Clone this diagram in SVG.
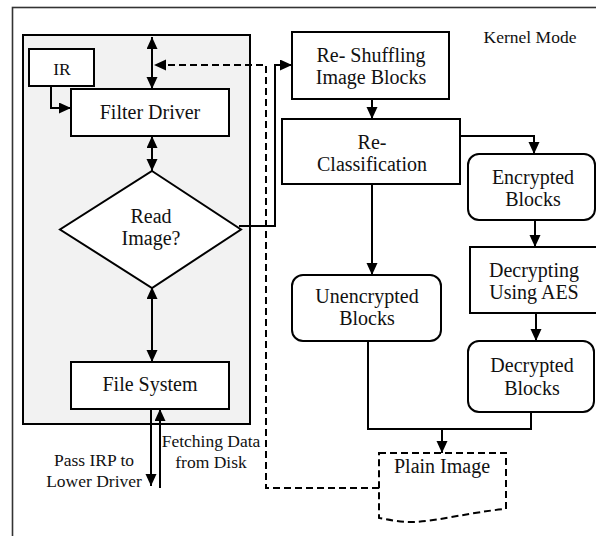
<svg xmlns="http://www.w3.org/2000/svg" width="596" height="536" viewBox="0 0 596 536">
  <style>
    .box { fill: #ffffff; stroke: #000000; stroke-width: 2; }
    .lbl { font-family: "Liberation Serif", "Times New Roman", serif; font-size: 20px; fill: #111111; text-anchor: middle; }
    .sm { font-family: "Liberation Serif", "Times New Roman", serif; font-size: 17.5px; fill: #111111; text-anchor: middle; }
    .ln { fill: none; stroke: #000000; stroke-width: 2; }
    .dash { fill: none; stroke: #000000; stroke-width: 2; stroke-dasharray: 7 4; }
  </style>
  <defs>
    <marker id="ah" markerUnits="userSpaceOnUse" markerWidth="13" markerHeight="12" refX="12" refY="5.5" orient="auto-start-reverse">
      <path d="M0,0 L12,5.5 L0,11 z" fill="#000000"/>
    </marker>
  </defs>

  <!-- outer frame (kernel mode) -->
  <rect x="12.5" y="7.5" width="600" height="560" fill="#ffffff" stroke="#333333" stroke-width="1.6"/>
  <!-- driver stack panel -->
  <rect x="23" y="35" width="227" height="389" fill="#f2f2f2" stroke="#000000" stroke-width="2"/>

  <text class="sm" x="530" y="43">Kernel Mode</text>

  <g id="ir">
    <rect class="box" x="29" y="49" width="65" height="37"/>
    <text class="sm" x="62" y="75">IR</text>
  </g>

  <g id="filter-driver">
    <rect class="box" x="71" y="89" width="158" height="47"/>
    <text class="lbl" x="150" y="119">Filter Driver</text>
  </g>

  <g id="read-image">
    <polygon class="box" points="152,171 241,229.5 152,288 60,229.5"/>
    <text class="lbl" x="151" y="223">Read</text>
    <text class="lbl" x="151" y="245">Image?</text>
  </g>

  <g id="file-system">
    <rect class="box" x="71" y="362" width="158" height="47"/>
    <text class="lbl" x="150" y="391">File System</text>
  </g>

  <g id="reshuffling">
    <rect class="box" x="292" y="32" width="157" height="67"/>
    <text class="lbl" x="371" y="62">Re- Shuffling</text>
    <text class="lbl" x="371" y="84">Image Blocks</text>
  </g>

  <g id="reclassification">
    <rect class="box" x="282" y="119" width="178" height="65"/>
    <text class="lbl" x="372" y="149">Re-</text>
    <text class="lbl" x="372" y="171">Classification</text>
  </g>

  <g id="encrypted">
    <rect class="box" x="468" y="154" width="127" height="66" rx="11"/>
    <text class="lbl" x="533" y="184">Encrypted</text>
    <text class="lbl" x="533" y="206">Blocks</text>
  </g>

  <g id="decrypting">
    <rect class="box" x="470" y="247" width="130" height="66"/>
    <text class="lbl" x="534" y="277">Decrypting</text>
    <text class="lbl" x="534" y="299">Using AES</text>
  </g>

  <g id="decrypted">
    <rect class="box" x="468" y="341" width="126" height="71" rx="11"/>
    <text class="lbl" x="532" y="372">Decrypted</text>
    <text class="lbl" x="532" y="395">Blocks</text>
  </g>

  <g id="unencrypted">
    <rect class="box" x="292" y="275" width="149" height="66" rx="11"/>
    <text class="lbl" x="367" y="303">Unencrypted</text>
    <text class="lbl" x="367" y="325">Blocks</text>
  </g>

  <g id="plain-image">
    <path d="M379,453 L506,453 L506,509 C470,512 440,521 413,522 C400,522 390,520 379,518 Z" fill="#ffffff" stroke="#000000" stroke-width="2" stroke-dasharray="7 4"/>
    <text class="lbl" x="442" y="473">Plain Image</text>
  </g>

  <g id="connectors">
    <!-- IR to filter driver -->
    <path class="ln" d="M51,86 V108 H71" marker-end="url(#ah)"/>
    <!-- upper driver link -->
    <path class="ln" d="M152,37 V89" marker-start="url(#ah)" marker-end="url(#ah)"/>
    <!-- filter driver / decision -->
    <path class="ln" d="M152,136 V171" marker-start="url(#ah)" marker-end="url(#ah)"/>
    <!-- decision / file system -->
    <path class="ln" d="M152,287 V362" marker-start="url(#ah)" marker-end="url(#ah)"/>
    <!-- yes branch to reshuffling -->
    <path class="ln" d="M239,226 H275 V65 H292" marker-end="url(#ah)"/>
    <!-- plain image returned to upper driver -->
    <path class="dash" d="M379,488 H266 V65 H154" marker-end="url(#ah)"/>
    <!-- reshuffling to reclassification -->
    <path class="ln" d="M372,99 V119" marker-end="url(#ah)"/>
    <!-- reclassification to encrypted -->
    <path class="ln" d="M460,136 H534 V154" marker-end="url(#ah)"/>
    <!-- reclassification to unencrypted -->
    <path class="ln" d="M372,184 V275" marker-end="url(#ah)"/>
    <!-- encrypted to decrypting -->
    <path class="ln" d="M535,220 V247" marker-end="url(#ah)"/>
    <!-- decrypting to decrypted -->
    <path class="ln" d="M536,313 V341" marker-end="url(#ah)"/>
    <!-- merge into plain image -->
    <path class="ln" d="M531,412 V429 H368 V341"/>
    <path class="ln" d="M442,429 V453" marker-end="url(#ah)"/>
    <!-- lower driver traffic -->
    <path class="ln" d="M151,409 V486" marker-end="url(#ah)"/>
    <path class="ln" d="M160,488 V409" marker-end="url(#ah)"/>
  </g>

  <text class="sm" x="94" y="466">Pass IRP to</text>
  <text class="sm" x="94" y="487">Lower Driver</text>
  <text class="sm" x="211" y="447">Fetching Data</text>
  <text class="sm" x="211" y="468">from Disk</text>
</svg>
